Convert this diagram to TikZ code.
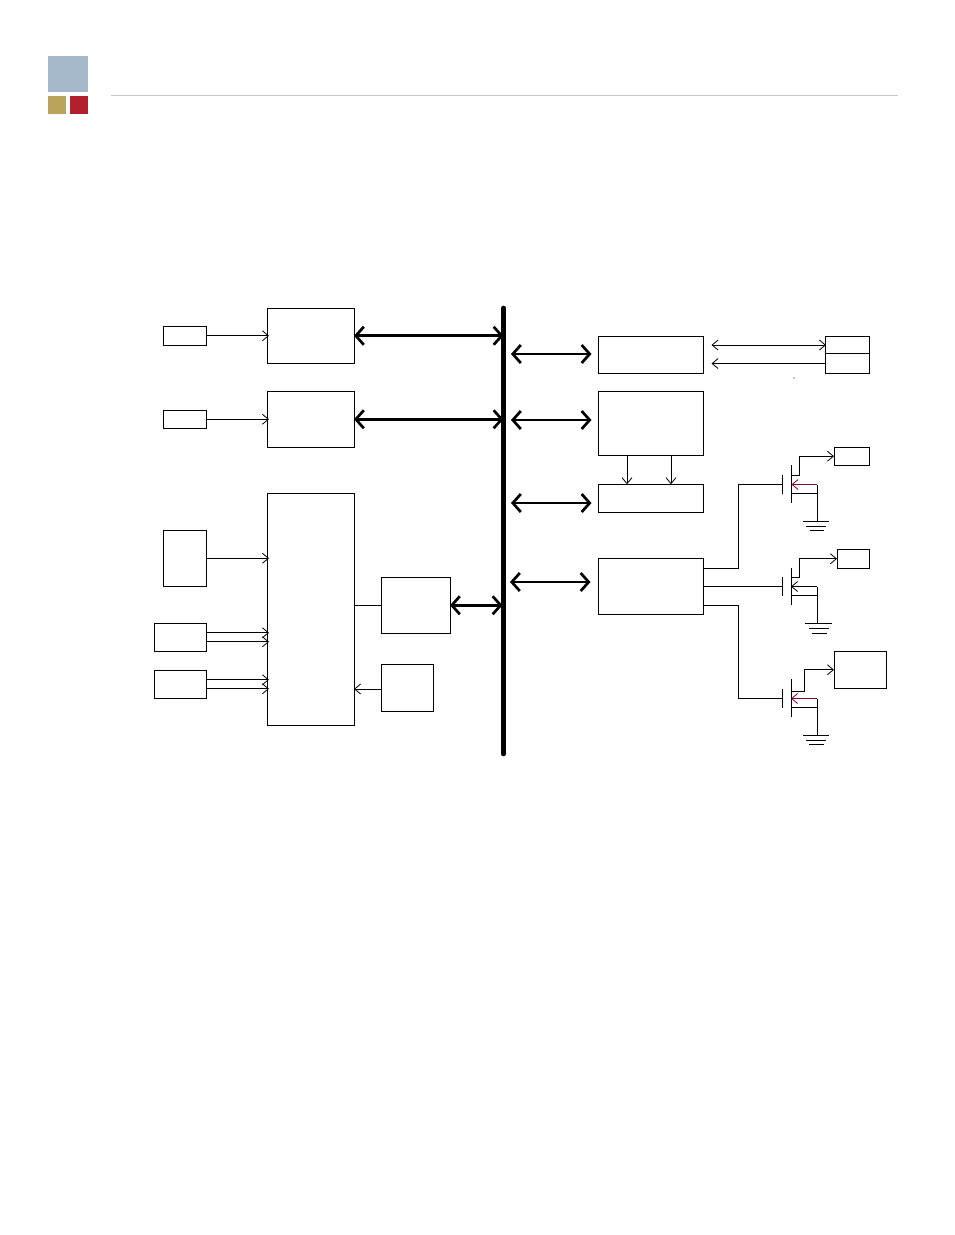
\documentclass[tikz,border=0pt]{standalone}
\usetikzlibrary{arrows.meta}
\definecolor{logoblue}{HTML}{A5B8CB}
\definecolor{logogold}{HTML}{B9A45C}
\definecolor{logored}{HTML}{B0202D}
\definecolor{ruleline}{HTML}{C3CAD1}
\definecolor{srcline}{HTML}{800040}
\tikzset{
  block/.style={draw,line width=0.8pt,inner sep=0pt,outer sep=0pt},
  wire/.style={line width=0.8pt},
  thinarrow/.style={wire,-{Straight Barb[length=6pt,width=10pt,line width=0.8pt]}},
  thinboth/.style={wire,{Straight Barb[length=6pt,width=10pt,line width=0.8pt]}-{Straight Barb[length=6pt,width=10pt,line width=0.8pt]}},
  busarrow/.style={line width=2.7pt,{Straight Barb[length=8pt,width=18pt,line width=2.7pt]}-{Straight Barb[length=8pt,width=18pt,line width=2.7pt]}},
  fetbar/.style={line width=1pt}
}
\begin{document}
\begin{tikzpicture}[x=1pt,y=-1pt]
  \useasboundingbox (0,0) rectangle (954,1235);
  % page logo and header rule
  \fill[logoblue] (48,56) rectangle (88,92);
  \fill[logogold] (48,96) rectangle (66,114);
  \fill[logored] (70,96) rectangle (88,114);
  \draw[ruleline,line width=0.8pt] (111,95.5) -- (898,95.5);
  % left column
  \node[block,minimum width=43pt,minimum height=19pt] (inone) at (184.5,335.75) {};
  \node[block,minimum width=43pt,minimum height=18pt] (intwo) at (184.5,419.25) {};
  \node[block,minimum width=43pt,minimum height=56pt] (sensa) at (184.5,558.25) {};
  \node[block,minimum width=52pt,minimum height=28pt] (sensb) at (180,637.25) {};
  \node[block,minimum width=52pt,minimum height=28pt] (sensc) at (180,684.25) {};
  \node[block,minimum width=87pt,minimum height=55pt] (adcone) at (310.5,335.75) {};
  \node[block,minimum width=87pt,minimum height=56pt] (adctwo) at (310.5,419.25) {};
  \node[block,minimum width=87pt,minimum height=232pt] (mcu) at (310.5,609.25) {};
  \node[block,minimum width=69pt,minimum height=56pt] (bridge) at (415.5,605.25) {};
  \node[block,minimum width=52pt,minimum height=47pt] (clock) at (407,687.75) {};
  % right column
  \node[block,minimum width=105pt,minimum height=37pt] (ifbox) at (651,354.5) {};
  \node[block,minimum width=105pt,minimum height=64pt] (membox) at (651,423.25) {};
  \node[block,minimum width=105pt,minimum height=28pt] (regbox) at (651,498.25) {};
  \node[block,minimum width=105pt,minimum height=56pt] (drvbox) at (651,586.25) {};
  \node[block,minimum width=44pt,minimum height=17.5pt] (contop) at (847,345) {};
  \node[block,minimum width=44pt,minimum height=19.5pt] (conbot) at (847,363.5) {};
  \node[block,minimum width=35pt,minimum height=18pt] (loadone) at (851.5,456.25) {};
  \node[block,minimum width=32pt,minimum height=19pt] (loadtwo) at (853,558.75) {};
  \node[block,minimum width=52pt,minimum height=37pt] (loadthree) at (860,669.75) {};
  % system bus
  \coordinate (bustop) at (503.5,308);
  \coordinate (busbot) at (503.5,754);
  \draw[line width=4.6pt,line cap=round] (bustop) -- (busbot);
  \draw[busarrow] (adcone.east) -- (adcone.east -| bustop);
  \draw[busarrow] (adctwo.east) -- (adctwo.east -| bustop);
  \draw[busarrow] (bridge.east) -- ([xshift=-1pt]bridge.east -| bustop);
  \draw[busarrow] ([xshift=7.5pt,yshift=0.5pt]ifbox.west -| bustop) -- ([xshift=-7pt,yshift=0.5pt]ifbox.west);
  \draw[busarrow] ([xshift=7.5pt,yshift=3.25pt]membox.west -| bustop) -- ([xshift=-7pt,yshift=3.25pt]membox.west);
  \draw[busarrow] ([xshift=7.5pt,yshift=-4.75pt]regbox.west -| bustop) -- ([xshift=-7pt,yshift=-4.75pt]regbox.west);
  \draw[busarrow] ([xshift=6.5pt,yshift=4.25pt]drvbox.west -| bustop) -- ([xshift=-8pt,yshift=4.25pt]drvbox.west);
  % inputs
  \draw[thinarrow] (inone.east) -- ([xshift=2pt]adcone.west);
  \draw[thinarrow] (intwo.east) -- ([xshift=2pt]adctwo.west);
  \draw[thinarrow] (sensa.east) -- ([xshift=2pt]sensa.east -| mcu.west);
  \draw[thinarrow] ([yshift=4.5pt]sensb.east) -- ([xshift=2pt,yshift=4.5pt]sensb.east -| mcu.west);
  \draw[thinarrow] ([yshift=-4.5pt]sensb.east) -- ([xshift=2pt,yshift=-4.5pt]sensb.east -| mcu.west);
  \draw[thinarrow] ([yshift=4.5pt]sensc.east) -- ([xshift=2pt,yshift=4.5pt]sensc.east -| mcu.west);
  \draw[thinarrow] ([yshift=-4.5pt]sensc.east) -- ([xshift=2pt,yshift=-4.5pt]sensc.east -| mcu.west);
  \draw[wire] (bridge.west) -- (bridge.west -| mcu.east);
  \draw[thinarrow] ([yshift=-1.25pt]clock.west) -- ([yshift=-1.25pt]clock.west -| mcu.east);
  % right side links
  \draw[thinboth] ([xshift=8pt]contop.center -| ifbox.east) -- ([xshift=1pt]contop.west);
  \draw[thinarrow] (conbot.west) -- ([xshift=8pt]conbot.west -| ifbox.east);
  \draw[thinarrow] ([xshift=-24pt]membox.south) -- ([xshift=-24pt]membox.south |- regbox.north);
  \draw[thinarrow] ([xshift=20pt]membox.south) -- ([xshift=20pt]membox.south |- regbox.north);
  \fill (794,378) circle (0.6pt);
  % first transistor
  \coordinate (gateone) at (782,484.5);
  \coordinate (chanone) at (791.5,484.5);
  \coordinate (gndone) at (817,521);
  \draw[wire] ([yshift=18.25pt]drvbox.east) -- ++(35,0) |- (gateone);
  \draw[fetbar] (782,475) -- (782,494);
  \draw[fetbar] (791.5,465) -- (791.5,503);
  \draw[thinarrow] (791.5,475.5) -| (799.5,456.25) -- (loadone.west);
  \draw[wire] (gndone |- chanone) -- (gndone);
  \draw[thinarrow,srcline] (gndone |- chanone) -- (chanone);
  \draw[wire] (791.5,493.5) -- (817,493.5);
  \draw[wire] (803,521) -- (829,521);
  \draw[wire] (806,526) -- (826,526);
  \draw[wire] (810,530.5) -- (824,530.5);
  % second transistor
  \coordinate (gatetwo) at (782,586.25);
  \coordinate (chantwo) at (791,586.5);
  \coordinate (gndtwo) at (817,623.5);
  \draw[wire] (drvbox.east) -- (gatetwo);
  \draw[fetbar] (782,577) -- (782,596);
  \draw[fetbar] (791,568) -- (791,605);
  \draw[thinarrow] (791,577) -| (799.5,558.75) -- (loadtwo.west);
  \draw[wire] (gndtwo |- chantwo) -- (gndtwo);
  \draw[thinarrow] (gndtwo |- chantwo) -- (chantwo);
  \draw[wire] (791,595.5) -- (817,595.5);
  \draw[wire] (805,623.5) -- (832,623.5);
  \draw[wire] (809,628.5) -- (829,628.5);
  \draw[wire] (812,633) -- (827,633);
  % third transistor
  \coordinate (gatethree) at (782,698);
  \coordinate (chanthree) at (791,698.5);
  \coordinate (gndthree) at (817,735);
  \draw[wire] ([yshift=-18.75pt]drvbox.east) -- ++(35,0) |- (gatethree);
  \draw[fetbar] (782,689) -- (782,708);
  \draw[fetbar] (791,679) -- (791,717);
  \draw[thinarrow] (791,691.5) -| (804,669.75) -- (loadthree.west);
  \draw[wire] (gndthree |- chanthree) -- (gndthree);
  \draw[thinarrow,srcline] (gndthree |- chanthree) -- (chanthree);
  \draw[wire] (791,707) -- (817,707);
  \draw[wire] (803,735) -- (829,735);
  \draw[wire] (806,740) -- (826,740);
  \draw[wire] (809,744) -- (824,744);
\end{tikzpicture}
\end{document}
